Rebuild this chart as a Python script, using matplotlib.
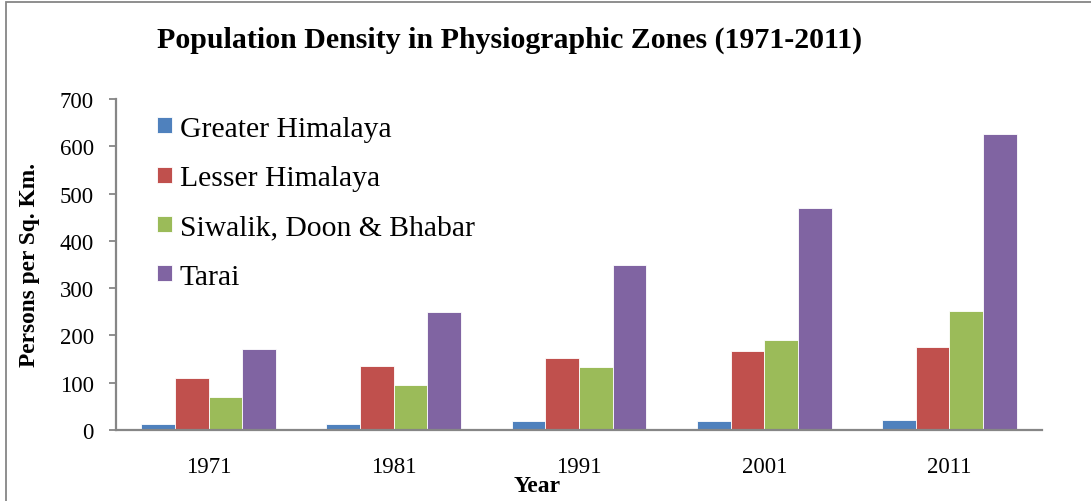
import matplotlib
matplotlib.use("Agg")
import matplotlib.pyplot as plt
import numpy as np
from matplotlib.patches import Rectangle

years = ["1971", "1981", "1991", "2001", "2011"]
greater_himalaya = [13, 13, 18, 20, 21]
lesser_himalaya = [110, 136, 152, 168, 176]
siwalik_doon_bhabar = [69, 95, 134, 190, 251]
tarai = [172, 250, 350, 470, 626]
series_names = ["Greater Himalaya", "Lesser Himalaya", "Siwalik, Doon & Bhabar", "Tarai"]
colors = ["#4F81BD", "#C0504D", "#9BBB59", "#8064A2"]
yticks = [0, 100, 200, 300, 400, 500, 600, 700]

plt.rcParams['font.family'] = ['Liberation Serif', 'DejaVu Serif']

W, H = 1091, 502
fig = plt.figure(figsize=(W / 100, H / 100), dpi=100)
ax = fig.add_axes([116 / W, 1 - 431 / H, (1042 - 116) / W, (431 - 100) / H])

series = [greater_himalaya, lesser_himalaya, siwalik_doon_bhabar, tarai]
x = np.arange(len(years))
bw = 1 / 5.5
for i, (vals, name, c) in enumerate(zip(series, series_names, colors)):
    ax.bar(x + (i - 1.5) * bw, vals, width=bw, color=c, label=name,
           edgecolor="white", linewidth=0.6)

ax.set_xlim(-0.5, len(years) - 0.5)
ax.set_ylim(0, 700)
ax.set_yticks(yticks)
ax.set_xticks(x)
ax.set_xticklabels(years)
ax.tick_params(axis='y', length=5, width=1.3, color="#868686", labelsize=16.5, pad=11)
ax.tick_params(axis='x', length=0, labelsize=16.5, pad=19)
for s in ["top", "right"]:
    ax.spines[s].set_visible(False)
for s in ["left", "bottom"]:
    ax.spines[s].set_color("#868686")
    ax.spines[s].set_linewidth(1.6)

fig.text(30 / W, 1 - 265 / H, "Persons per Sq. Km.", fontsize=16.8, fontweight="bold",
         rotation=90, ha="center", va="center")
fig.text(537 / W, 1 - 487 / H, "Year", fontsize=17, fontweight="bold", ha="center", va="center")
fig.text(510 / W, 1 - 40 / H, "Population Density in Physiographic Zones (1971-2011)",
         fontsize=21.5, fontweight="bold", ha="center", va="center")

leg = ax.legend(loc="upper left", bbox_to_anchor=(0.032, 0.985), frameon=False,
                fontsize=21.3, handlelength=0.5, handleheight=0.45,
                handletextpad=0.25, labelspacing=0.79, borderaxespad=0)

fig.patches.append(Rectangle((6 / W, -0.1), 1.2, 1 - 3 / H + 0.1, transform=fig.transFigure,
                             fill=False, edgecolor="#868686", linewidth=1.3))

fig.savefig("out.png", dpi=100)
